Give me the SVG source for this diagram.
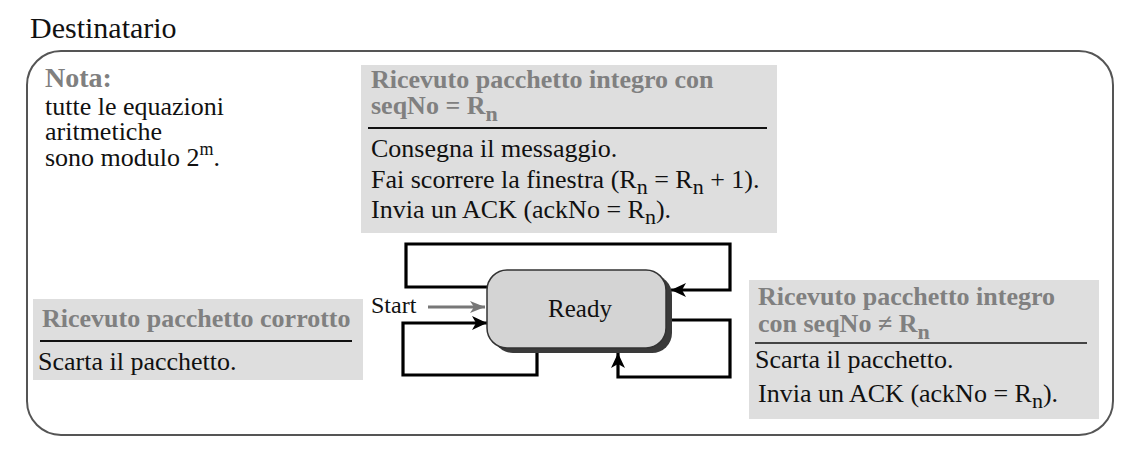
<svg xmlns="http://www.w3.org/2000/svg" width="1134" height="461" viewBox="0 0 1134 461">
<defs>
<style>
.t{font-size:26px;}
.h{font-size:26px;font-weight:bold;fill:#808080;}
.sub{font-size:22px;}
.box{fill:#dedede;stroke:none;}
.rule{stroke:#111;stroke-width:2;}
.conn{fill:none;stroke:#000;stroke-width:3.2;}
</style>
<marker id="ah" markerUnits="userSpaceOnUse" markerWidth="16" markerHeight="14" refX="15" refY="7" orient="auto">
<path d="M0,0 L15,7 L0,14 L4,7 z" fill="#000"/>
</marker>
<marker id="ahg" markerUnits="userSpaceOnUse" markerWidth="16" markerHeight="14" refX="15" refY="7" orient="auto">
<path d="M0,1 L15,7 L0,13 L4,7 z" fill="#777"/>
</marker>
</defs>
<rect width="1134" height="461" fill="#fff"/>
<text x="30" y="38" font-size="30" fill="#111" font-family="Liberation Serif">Destinatario</text>
<rect id="frame" x="27" y="51" width="1086" height="384" rx="34" ry="34" fill="none" stroke="#555" stroke-width="2"/>

<g id="nota" fill="#111">
<text x="45" y="87" class="h" font-family="Liberation Serif" style="font-size:28px">Nota:</text>
<text x="45" y="115" class="t" font-family="Liberation Serif">tutte le equazioni</text>
<text x="45" y="140" class="t" font-family="Liberation Serif">aritmetiche</text>
<text x="45" y="166" class="t" font-family="Liberation Serif">sono modulo 2<tspan dy="-11" font-size="18">m</tspan><tspan dy="11">.</tspan></text>
</g>

<g id="box-ok" fill="#111">
<rect class="box" x="361" y="65" width="416" height="168"/>
<text x="371" y="88" class="h" font-family="Liberation Serif">Ricevuto pacchetto integro con</text>
<text x="371" y="114" class="h" font-family="Liberation Serif">seqNo = R<tspan class="sub" dy="7">n</tspan></text>
<line class="rule" x1="368" y1="128" x2="767" y2="128"/>
<text x="371" y="157" class="t" font-family="Liberation Serif">Consegna il messaggio.</text>
<text x="371" y="188" class="t" font-family="Liberation Serif">Fai scorrere la finestra (R<tspan class="sub" dy="6">n</tspan><tspan dy="-6"> = R</tspan><tspan class="sub" dy="6">n</tspan><tspan dy="-6"> + 1).</tspan></text>
<text x="371" y="218" class="t" font-family="Liberation Serif">Invia un ACK (ackNo = R<tspan class="sub" dy="6">n</tspan><tspan dy="-6">).</tspan></text>
</g>

<g id="box-corrupt" fill="#111">
<rect class="box" x="33" y="299" width="330" height="81"/>
<text x="42" y="327" class="h" font-family="Liberation Serif">Ricevuto pacchetto corrotto</text>
<line class="rule" x1="40" y1="341" x2="352" y2="341"/>
<text x="38" y="370" class="t" font-family="Liberation Serif">Scarta il pacchetto.</text>
</g>

<g id="box-other" fill="#111">
<rect class="box" x="749" y="280" width="350" height="139"/>
<text x="758" y="305" class="h" font-family="Liberation Serif">Ricevuto pacchetto integro</text>
<text x="758" y="332" class="h" font-family="Liberation Serif">con seqNo ≠ R<tspan class="sub" dy="7">n</tspan></text>
<line class="rule" x1="755" y1="343" x2="1087" y2="343" style="stroke-width:1.6"/>
<text x="755" y="368" class="t" font-family="Liberation Serif">Scarta il pacchetto.</text>
<text x="758" y="402" class="t" font-family="Liberation Serif">Invia un ACK (ackNo = R<tspan class="sub" dy="6">n</tspan><tspan dy="-6">).</tspan></text>
</g>

<g id="connectors">
<path class="conn" d="M488,287 H406 V244 H730 V290 H671" marker-end="url(#ah)"/>
<path class="conn" d="M537,350 V375 H403 V323 H487" marker-end="url(#ah)"/>
<path class="conn" d="M668,320 H730 V377 H618 V353" marker-end="url(#ah)"/>
<path d="M428,307 H485" fill="none" stroke="#777" stroke-width="3" marker-end="url(#ahg)"/>
<text x="371" y="313" font-size="24" fill="#111" font-family="Liberation Serif">Start</text>
</g>

<g id="ready">
<rect x="493" y="275" width="179" height="78" rx="20" ry="20" fill="#3a3a3a"/>
<rect x="487" y="270" width="179" height="78" rx="20" ry="20" fill="#d4d4d4" stroke="#333" stroke-width="1.5"/>
<text x="580" y="317" text-anchor="middle" font-size="25" fill="#111" font-family="Liberation Serif">Ready</text>
</g>
</svg>
